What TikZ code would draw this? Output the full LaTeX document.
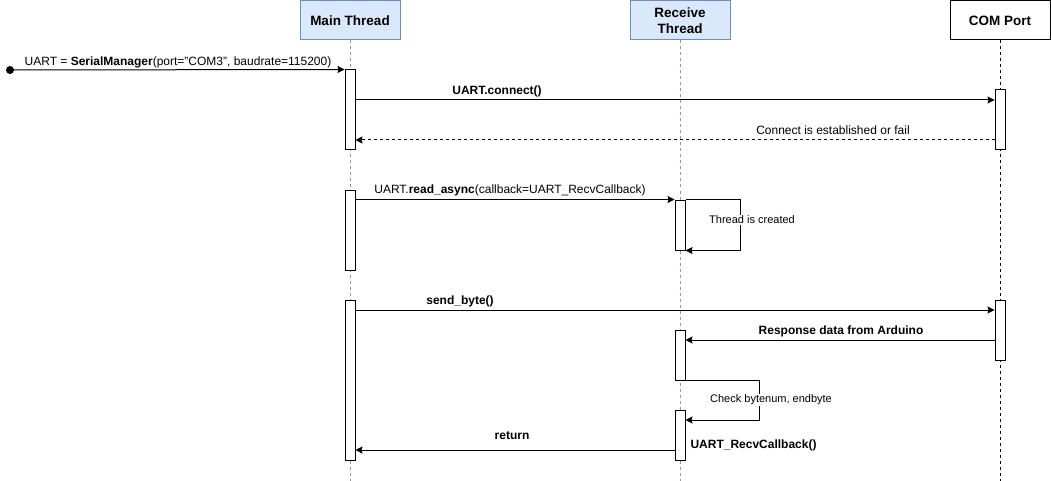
\documentclass[tikz,border=0pt]{standalone}
\usepackage{fontspec}
\setmainfont{Liberation Sans}
\usetikzlibrary{arrows.meta,calc}
\definecolor{hdrfill}{HTML}{DAE8FC}
\definecolor{hdrline}{HTML}{6C8EBF}
\definecolor{lifeblue}{HTML}{8A9AB8}
\begin{document}
\begin{tikzpicture}[x=1pt,y=-1pt,line width=1pt,
  hdr/.style={draw=hdrline,fill=hdrfill,minimum width=100pt,minimum height=39pt,inner sep=0pt,
    font=\fontsize{13.5}{16.5}\selectfont\bfseries,align=center},
  actbox/.style={draw=black,fill=white,minimum width=10pt,inner sep=0pt},
  msg/.style={-{Stealth[length=7pt,width=7pt,inset=1pt]}},
  retmsg/.style={msg,dash pattern=on 3pt off 3pt},
  life/.style={dash pattern=on 3pt off 3pt},
  lbl/.style={font=\fontsize{12}{14}\selectfont,inner sep=0pt},
  blbl/.style={font=\fontsize{12}{14}\selectfont\bfseries,inner sep=0pt},
  slbl/.style={font=\fontsize{11}{13}\selectfont,fill=white,inner sep=1pt}]
\useasboundingbox (0,0) rectangle (1051,481);

% headers
\node[hdr] (hm) at (350,20.5) {Main Thread};
\node[hdr] (hr) at (680,20.5) {Receive\\Thread};
\node[hdr,draw=black,fill=white] (hc) at (1000,20.5) {COM Port};

% lifelines
\coordinate (em) at (350,481);
\coordinate (er) at (680,481);
\coordinate (ec) at (1000,481);
\draw[life,lifeblue,line width=0.7pt] (hm.south) -- (em);
\draw[life,lifeblue,line width=0.7pt] (hr.south) -- (er);
\draw[life,black,line width=0.9pt] (hc.south) -- (ec);

% activations
\node[actbox,minimum height=80pt] (m1) at (350,110) {};
\node[actbox,minimum height=80pt] (m2) at (350,230) {};
\node[actbox,minimum height=160pt] (m3) at (350,380) {};
\node[actbox,minimum height=50pt] (r1) at (680,225) {};
\node[actbox,minimum height=50pt] (r2) at (680,355) {};
\node[actbox,minimum height=50pt] (r3) at (680,435) {};
\node[actbox,minimum height=60pt] (c1) at (1000,120) {};
\node[actbox,minimum height=60pt] (c2) at (1000,330) {};

% start
\node[circle,fill=black,inner sep=0pt,minimum size=8pt] (st) at (10,70) {};
\draw[msg] (st.center) -- (m1.north west);
\node[lbl] (l1) at (178,62) {UART = \textbf{SerialManager}(port="COM3", baudrate=115200)};

% connect
\draw[msg] (m1.east |- 0,100) -- (c1.west |- 0,100);
\node[blbl] (l2) at (497,91) {UART.connect()};
\draw[retmsg] (c1.west |- 0,140) -- (m1.east |- 0,140);
\node[lbl] (l3) at (833,130) {Connect is established or fail};

% read_async
\draw[msg] (m2.east |- r1.north) -- (r1.north west);
\node[lbl] (l4) at (510,190) {UART.\textbf{read\_async}(callback=UART\_RecvCallback)};
\draw[msg] (r1.north east) -- ++(55,0) |- (r1.south east);
\node[slbl] (l5) at (752,220) {Thread is created};

% send_byte
\draw[msg] (m3.east |- 0,310) -- (c2.west |- 0,310);
\node[blbl] (l6) at (460,301) {send\_byte()};
\draw[msg] (c2.west |- 0,340) -- (r2.east |- 0,340);
\node[blbl] (l7) at (841,331) {Response data from Arduino};

% check
\draw[msg] (r2.south west) -- ++(85,0) |- (r3.east |- 0,420);
\node[slbl] (l8) at (771,400) {Check bytenum, endbyte};

% return
\draw[msg] (r3.west |- 0,450) -- (m3.east |- 0,450);
\node[blbl] (l9) at (512,436) {return};
\node[blbl,anchor=west] (l10) at (690,445) {UART\_RecvCallback()};
\end{tikzpicture}
\end{document}
